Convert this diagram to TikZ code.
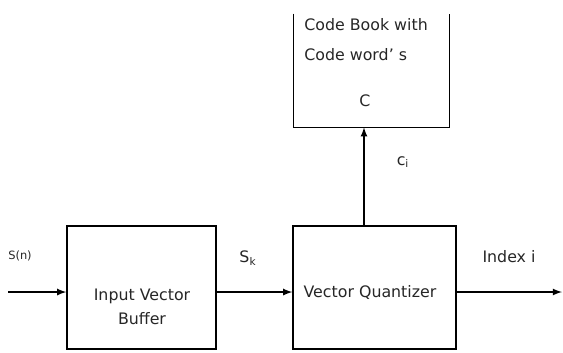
\documentclass[tikz,border=0pt]{standalone}
\usepackage{fontspec}
\setmainfont{DejaVu Sans}
\usepackage{tikz}
\usetikzlibrary{shapes,arrows}

\tikzset{
  blk/.style={draw,thick,minimum width=#1,minimum height=2.46cm,inner sep=0pt},
  lbl/.style={draw=none,inner sep=0pt,font=\fontsize{9}{11}\selectfont,text=black!85},
  flow/.style={thick,-latex}
}

\begin{document}
\begin{tikzpicture}[x=0.02cm,y=-0.02cm]
  \useasboundingbox (0,0) rectangle (563,352);

  % blocks
  \node[blk=2.98cm] (buffer) at (141.5,287.5) {};
  \node[lbl,align=center,font=\fontsize{9}{14}\selectfont] (buftxt) at (142,307) {Input Vector\\Buffer};
  \node[blk=3.26cm] (vq) at (374.5,287.5) {};
  \node[lbl] (vqtxt) at (370,293) {Vector Quantizer};

  % code book, open at the top
  \node[draw=none,minimum width=3.1cm,minimum height=2.26cm,inner sep=0pt] (codebook) at (371.5,70.5) {};
  \draw[thick] (codebook.north west) -- (codebook.south west) -- (codebook.south east) -- (codebook.north east);
  \node[lbl,align=left,anchor=west,font=\fontsize{9}{17}\selectfont] (cbtxt) at (304,40) {Code Book with\\Code word' s};
  \node[lbl] (ctxt) at (365,101) {C};

  % signal path
  \coordinate (in) at (8,292);
  \coordinate (out) at (562,292);
  \coordinate (ci) at (364,0);
  \draw[flow] (in) -- (in -| buffer.west);
  \draw[flow] (in -| buffer.east) -- (in -| vq.west);
  \draw[flow] (in -| vq.east) -- (out);
  \draw[flow] (ci |- vq.north) -- (ci |- codebook.south);

  % labels
  \node[lbl,font=\fontsize{6.5}{8}\selectfont] (sn) at (20,256) {S(n)};
  \node[lbl] (sk) at (248,258) {S\textsubscript{k}};
  \node[lbl] (idx) at (509,257) {Index i};
  \node[lbl] (cilbl) at (403,162) {c\textsubscript{i}};
\end{tikzpicture}
\end{document}
